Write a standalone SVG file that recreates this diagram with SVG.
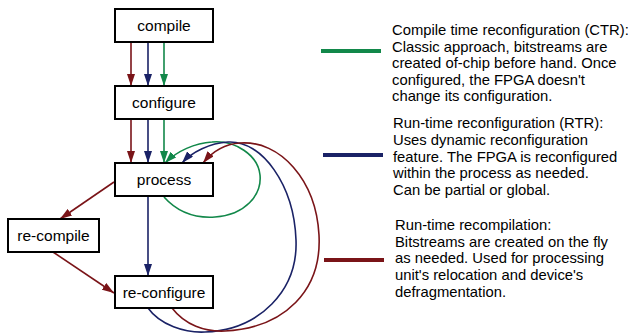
<svg xmlns="http://www.w3.org/2000/svg" width="631" height="334" viewBox="0 0 631 334">
<style>
.box{fill:#fff;stroke:#000;stroke-width:2}
.nt{font-family:"Liberation Sans",Arial,sans-serif;font-size:15.5px;fill:#000;text-anchor:middle}
.lt{font-family:"Liberation Sans",Arial,sans-serif;font-size:14.8px;fill:#000}
.r{stroke:#7a1418;fill:none;stroke-width:1.6}
.b{stroke:#1a2266;fill:none;stroke-width:1.6}
.g{stroke:#12884a;fill:none;stroke-width:1.6}
</style>
<defs>
<marker id="ar" viewBox="0 0 12 8" refX="12" refY="4" markerWidth="12" markerHeight="8" markerUnits="userSpaceOnUse" orient="auto"><path d="M0,0 L12,4 L0,8 z" fill="#7a1418"/></marker>
<marker id="ab" viewBox="0 0 12 8" refX="12" refY="4" markerWidth="12" markerHeight="8" markerUnits="userSpaceOnUse" orient="auto"><path d="M0,0 L12,4 L0,8 z" fill="#1a2266"/></marker>
<marker id="ag" viewBox="0 0 12 8" refX="12" refY="4" markerWidth="12" markerHeight="8" markerUnits="userSpaceOnUse" orient="auto"><path d="M0,0 L12,4 L0,8 z" fill="#12884a"/></marker>
</defs>
<g id="connectors">
<path class="r" d="M131,42 L131,86" marker-end="url(#ar)"/>
<path class="b" d="M148,42 L148,86" marker-end="url(#ab)"/>
<path class="g" d="M164,42 L164,86" marker-end="url(#ag)"/>
<path class="r" d="M131,119 L131,163" marker-end="url(#ar)"/>
<path class="b" d="M148,119 L148,163" marker-end="url(#ab)"/>
<path class="g" d="M164,119 L164,163" marker-end="url(#ag)"/>
<path class="b" d="M148,196 L148,276" marker-end="url(#ab)"/>
<path class="r" d="M114,182 L60,219" marker-end="url(#ar)"/>
<path class="r" d="M53,252 L114,293" marker-end="url(#ar)"/>
<path class="g" d="M164,197 C180,215 200,218 215,217 C245,215 262,195 260,175 C258,155 235,140 212,142 C195,143 177,151 165,163" marker-end="url(#ag)"/>
<path class="b" d="M148,308 C160,325 185,333 205,332 C260,330 298,290 296,240 C294,185 262,140 228,142 C210,143 192,152 182,163" marker-end="url(#ab)"/>
<path class="r" d="M172,308 C185,325 205,332 225,331 C285,328 322,290 319,235 C316,180 280,140 240,143 C225,144 212,152 203,163" marker-end="url(#ar)"/>
</g>
<g id="compile"><rect class="box" x="115" y="9" width="98" height="33"/><text class="nt" x="164" y="31">compile</text></g>
<g id="configure"><rect class="box" x="115" y="86" width="98" height="33"/><text class="nt" x="164" y="108">configure</text></g>
<g id="process"><rect class="box" x="115" y="163" width="98" height="33"/><text class="nt" x="164" y="185">process</text></g>
<g id="re-compile"><rect class="box" x="8" y="219" width="91" height="33"/><text class="nt" x="53.5" y="241">re-compile</text></g>
<g id="re-configure"><rect class="box" x="115" y="276" width="98" height="32"/><text class="nt" x="164" y="298">re-configure</text></g>
<g id="legend">
<line x1="321" y1="51" x2="381" y2="51" stroke="#12884a" stroke-width="4"/>
<line x1="323" y1="155" x2="383" y2="155" stroke="#1a2266" stroke-width="4"/>
<line x1="324" y1="260" x2="384" y2="260" stroke="#7a1418" stroke-width="4"/>
<text class="lt" x="392" y="35">Compile time reconfiguration (CTR):</text>
<text class="lt" x="392" y="51.5">Classic approach, bitstreams are</text>
<text class="lt" x="392" y="68">created of-chip before hand. Once</text>
<text class="lt" x="392" y="84.5">configured, the FPGA doesn't</text>
<text class="lt" x="392" y="101">change its configuration.</text>
<text class="lt" x="393" y="128">Run-time reconfiguration (RTR):</text>
<text class="lt" x="393" y="145">Uses dynamic reconfiguration</text>
<text class="lt" x="393" y="161.5">feature. The FPGA is reconfigured</text>
<text class="lt" x="393" y="178">within the process as needed.</text>
<text class="lt" x="393" y="195">Can be partial or global.</text>
<text class="lt" x="395" y="230">Run-time recompilation:</text>
<text class="lt" x="395" y="247">Bitstreams are created on the fly</text>
<text class="lt" x="395" y="263">as needed. Used for processing</text>
<text class="lt" x="395" y="280">unit's relocation and device's</text>
<text class="lt" x="395" y="297">defragmentation.</text>
</g>
</svg>
